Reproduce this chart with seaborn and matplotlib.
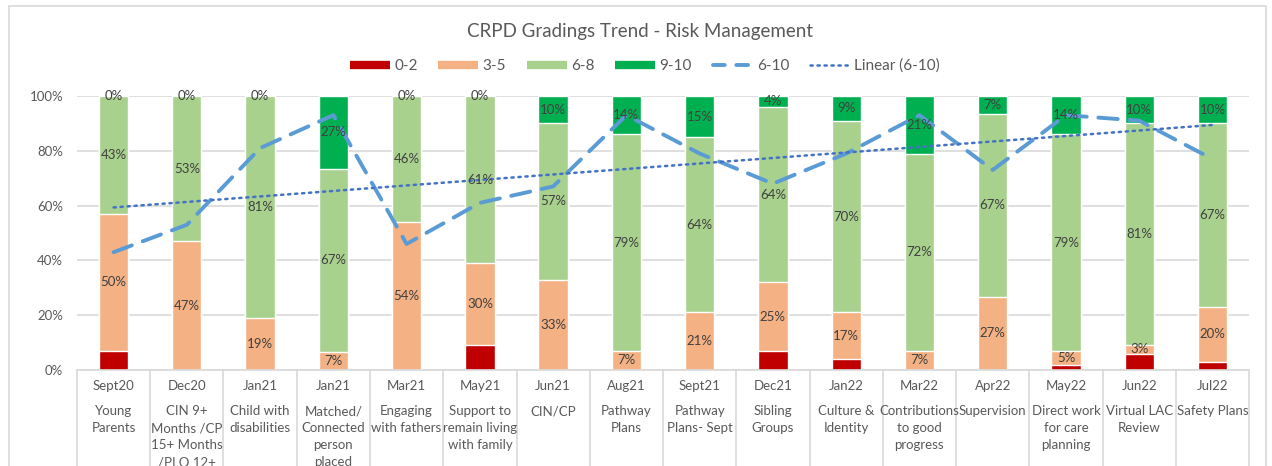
import numpy as np
import pandas as pd
import matplotlib.pyplot as plt
import seaborn as sns
from matplotlib.lines import Line2D
from matplotlib.patches import Rectangle

# Data (percent)
dates = ["Sept20", "Dec20", "Jan21", "Jan21", "Mar21", "May21", "Jun21", "Aug21",
         "Sept21", "Dec21", "Jan22", "Mar22", "Apr22", "May22", "Jun22", "Jul22"]
topics = ["Young\nParents", "CIN 9+\nMonths /CP\n15+ Months\n/PLO 12+",
          "Child with\ndisabilities", "Matched/\nConnected\nperson\nplaced",
          "Engaging\nwith fathers", "Support to\nremain living\nwith family",
          "CIN/CP", "Pathway\nPlans", "Pathway\nPlans- Sept", "Sibling\nGroups",
          "Culture &\nIdentity", "Contributions\nto good\nprogress", "Supervision",
          "Direct work\nfor care\nplanning", "Virtual LAC\nReview", "Safety Plans"]
g_0_2 = [7.1, 0, 0, 0, 0, 9, 0, 0, 0, 7, 4, 0, 0, 2, 6, 3]
g_3_5 = [50, 47, 19, 6.7, 54, 30, 33, 7, 21, 25, 17, 7, 26.7, 5, 3, 20]
g_6_8 = [42.9, 53, 81, 66.7, 46, 61, 57, 79, 64, 64, 70, 72, 66.7, 79, 81, 67]
g_9_10 = [0, 0, 0, 26.7, 0, 0, 10, 14, 15, 4, 9, 21, 6.7, 14, 10, 10]
g_6_10 = [43, 53, 81, 93, 46, 61, 67, 93, 79, 68, 79, 93, 73, 93, 91, 77]

c_red, c_orange, c_lgreen, c_green = "#C00000", "#F4B183", "#A9D18E", "#00B050"
c_dash, c_dot = "#5B9BD5", "#4472C4"
grey_txt, dark_txt, grid_c = "#595959", "#404040", "#D9D9D9"

sns.set_theme(style="white")
plt.rcParams["font.family"] = ["Lato", "DejaVu Sans"]

df = pd.DataFrame({"pos": np.arange(len(dates)), "a": g_0_2, "b": g_3_5,
                   "c": g_6_8, "d": g_9_10, "line": g_6_10})
df["cum_a"] = df["a"]
df["cum_b"] = df["cum_a"] + df["b"]
df["cum_c"] = df["cum_b"] + df["c"]
df["cum_d"] = df["cum_c"] + df["d"]

fig, ax = plt.subplots(figsize=(12.72, 4.66), dpi=100)
fig.subplots_adjust(left=0.0605, right=0.982, bottom=0.206, top=0.794)

# stacked bars drawn as overlaid cumulative totals
for col, colr in [("cum_d", c_green), ("cum_c", c_lgreen), ("cum_b", c_orange), ("cum_a", c_red)]:
    sns.barplot(data=df, x="pos", y=col, color=colr, saturation=1, width=0.4,
                errorbar=None, ax=ax, zorder=2)

# segment labels
for i, r in df.iterrows():
    if r["b"] > 0:
        ax.text(i, r["cum_a"] + r["b"] / 2, f"{r['b']:.0f}%", ha="center", va="center",
                fontsize=9.5, color=dark_txt, zorder=5)
    ax.text(i, r["cum_b"] + r["c"] / 2, f"{r['c']:.0f}%", ha="center", va="center",
            fontsize=9.5, color=dark_txt, zorder=5)
    ax.text(i, min(r["cum_c"] + r["d"] / 2, 100), f"{r['d']:.0f}%", ha="center",
            va="center", fontsize=9.5, color=dark_txt, zorder=5)

# 6-10 line and its linear trend
sns.lineplot(data=df, x="pos", y="line", ax=ax, color=c_dash, lw=2.8,
             linestyle=(0, (5, 3)), dash_capstyle="round", zorder=4)
coef = np.polyfit(df["pos"], df["line"], 1)
ax.plot(df["pos"], np.polyval(coef, df["pos"]), color=c_dot, lw=1.8,
        linestyle=(0, (0.9, 1.9)), dash_capstyle="round", zorder=4)

ax.set_ylim(0, 100)
ax.set_xlim(-0.5, len(dates) - 0.5)
ax.set_yticks(np.arange(0, 101, 20))
ax.set_yticklabels([f"{v}%" for v in range(0, 101, 20)], fontsize=9.5, color=grey_txt)
ax.tick_params(axis="y", length=0, pad=10)
ax.set_xticks([])
ax.set_xlabel("")
ax.set_ylabel("")
ax.grid(axis="y", color=grid_c, lw=1.2, zorder=0)
ax.set_axisbelow(True)
for s in ["left", "right", "top"]:
    ax.spines[s].set_visible(False)
ax.spines["bottom"].set_color(grid_c)
ax.spines["bottom"].set_linewidth(1.2)

# two-level category axis
trans = ax.get_xaxis_transform()
ax.vlines(np.arange(-0.5, len(dates)), -0.4, 0, transform=trans, color=grid_c,
          lw=1.2, clip_on=False)
for i, (d, t) in enumerate(zip(dates, topics)):
    ax.text(i, -0.058, d, transform=trans, ha="center", va="center",
            fontsize=9.5, color=grey_txt)
    ax.text(i, -0.129, t, transform=trans, ha="center", va="top",
            fontsize=9.5, color=grey_txt, linespacing=1.5)

fig.text(0.503, 1 - 32 / 466, "CRPD Gradings Trend - Risk Management",
         ha="center", va="center", fontsize=13.5, color=grey_txt)

handles = [Line2D([], [], color=c, lw=6, solid_capstyle="butt")
           for c in [c_red, c_orange, c_lgreen, c_green]]
handles.append(Line2D([], [], color=c_dash, lw=2.8, linestyle=(0, (3, 3)),
                      dash_capstyle="round"))
handles.append(Line2D([], [], color=c_dot, lw=1.8, linestyle=(0, (0.9, 1.9)),
                      dash_capstyle="round"))
leg = fig.legend(handles, ["0-2", "3-5", "6-8", "9-10", "6-10", "Linear (6-10)"],
                 loc="center", bbox_to_anchor=(0.507, 1 - 66 / 466), ncol=6,
                 frameon=False, fontsize=11, handlelength=2.6, handletextpad=0.3,
                 columnspacing=1.35)
for txt in leg.get_texts():
    txt.set_color(grey_txt)

# chart frame
fig.patches.append(Rectangle((9 / 1272, -0.02), 1257 / 1272, 1.008, transform=fig.transFigure,
                             fill=False, edgecolor=grid_c, lw=1.2))

fig.savefig("out.png", dpi=100)
